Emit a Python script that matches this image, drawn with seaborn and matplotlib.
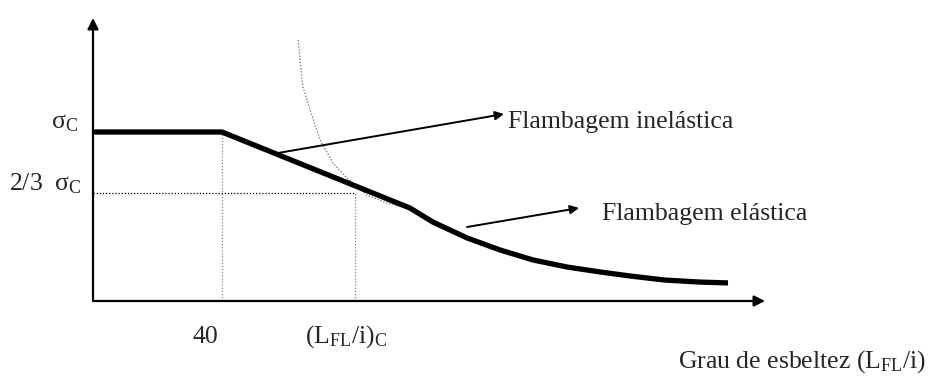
"""Curva de flambagem: tensão crítica x grau de esbeltez (esquema)."""
import matplotlib
matplotlib.use("Agg")
import matplotlib.pyplot as plt
import pandas as pd
import seaborn as sns

# thick design curve, sigma_C normalised to 1
slender = [0, 40, 98.3, 105.4, 116.0, 126.2, 136.4, 147.0, 157.2, 166.5, 177.3, 188.2, 196.9]
stress = [1.0, 1.0, 0.550, 0.467, 0.373, 0.302, 0.243, 0.201, 0.172, 0.148, 0.124, 0.112, 0.107]

# dotted Euler hyperbola
euler_x = [63.6, 64.3, 65.1, 67.3, 70.4, 74.4, 78.7, 84.9, 91.1, 97.3]
euler_y = [1.544, 1.408, 1.266, 1.130, 0.953, 0.817, 0.728, 0.627, 0.580, 0.550]

lim_x = 40        # esbeltez limite
crit_x = 81.2     # (L_FL/i)_C
crit_y = 0.64     # 2/3 sigma_C

sns.set_style("white")
plt.rcParams["font.family"] = ["Liberation Serif", "DejaVu Serif"]
plt.rcParams["mathtext.fontset"] = "custom"
plt.rcParams["mathtext.rm"] = "Liberation Serif"
plt.rcParams["mathtext.it"] = "Liberation Serif:italic"

# pixel -> data helper for label placement (origin at px 93, 301)
SX, SY = 129 / 40, 169


def px(x, y):
    return ((x - 93) / SX, (301 - y) / SY)


fig = plt.figure(figsize=(9.47, 3.79), dpi=100)
ax = fig.add_axes([0, 0, 1, 1])
ax.set_xlim(-93 / SX, (947 - 93) / SX)
ax.set_ylim(-(379 - 301) / SY, 301 / SY)
ax.axis("off")

# axes with arrows
ax.annotate("", xy=px(765, 301), xytext=(0, 0),
            arrowprops=dict(arrowstyle="-|>", lw=1.6, color="black",
                            mutation_scale=16, shrinkA=0, shrinkB=0))
ax.annotate("", xy=px(93, 18), xytext=(0, 0),
            arrowprops=dict(arrowstyle="-|>", lw=1.6, color="black",
                            mutation_scale=16, shrinkA=0, shrinkB=0))

# dotted guides
ax.plot([lim_x, lim_x], [0, 1.0], ls=(0, (1, 1.5)), color="gray", lw=0.9)
ax.plot([0, crit_x], [crit_y, crit_y], ls=(0, (1, 1.5)), color="black", lw=0.9)
ax.plot([crit_x, crit_x], [0, crit_y], ls=(0, (1, 1.5)), color="gray", lw=0.9)

sns.lineplot(data=pd.DataFrame({"x": euler_x, "y": euler_y}), x="x", y="y",
             sort=False, estimator=None, ax=ax, color="dimgray", lw=0.9,
             ls=(0, (1, 1.5)))
sns.lineplot(data=pd.DataFrame({"x": slender, "y": stress}), x="x", y="y",
             sort=False, estimator=None, ax=ax, color="black", lw=3.8,
             solid_joinstyle="round", solid_capstyle="butt")

fs = 18.5
ax.text(*px(78, 128), r"σ$_{\mathrm{C}}$", ha="right", va="baseline", fontsize=fs)
ax.text(*px(9, 190), r"2/3  σ$_{\mathrm{C}}$", ha="left", va="baseline", fontsize=fs)
ax.text(*px(205, 343), "40", ha="center", va="baseline", fontsize=fs)
ax.text(*px(305, 343), r"(L$_{\mathrm{FL}}$/i)$_{\mathrm{C}}$", ha="left",
        va="baseline", fontsize=fs)
ax.text(*px(926, 368), r"Grau de esbeltez (L$_{\mathrm{FL}}$/i)", ha="right",
        va="baseline", fontsize=fs)

ax.text(*px(508, 128), "Flambagem inelástica", ha="left", va="baseline", fontsize=fs)
ax.text(*px(602, 220), "Flambagem elástica", ha="left", va="baseline", fontsize=fs)
ax.annotate("", xy=px(504, 114), xytext=px(278, 153),
            arrowprops=dict(arrowstyle="-|>", lw=1.4, color="black",
                            mutation_scale=13, shrinkA=0, shrinkB=0))
ax.annotate("", xy=px(579, 208), xytext=px(467, 227),
            arrowprops=dict(arrowstyle="-|>", lw=1.4, color="black",
                            mutation_scale=13, shrinkA=0, shrinkB=0))

fig.savefig("out.png", dpi=100, facecolor="white")
